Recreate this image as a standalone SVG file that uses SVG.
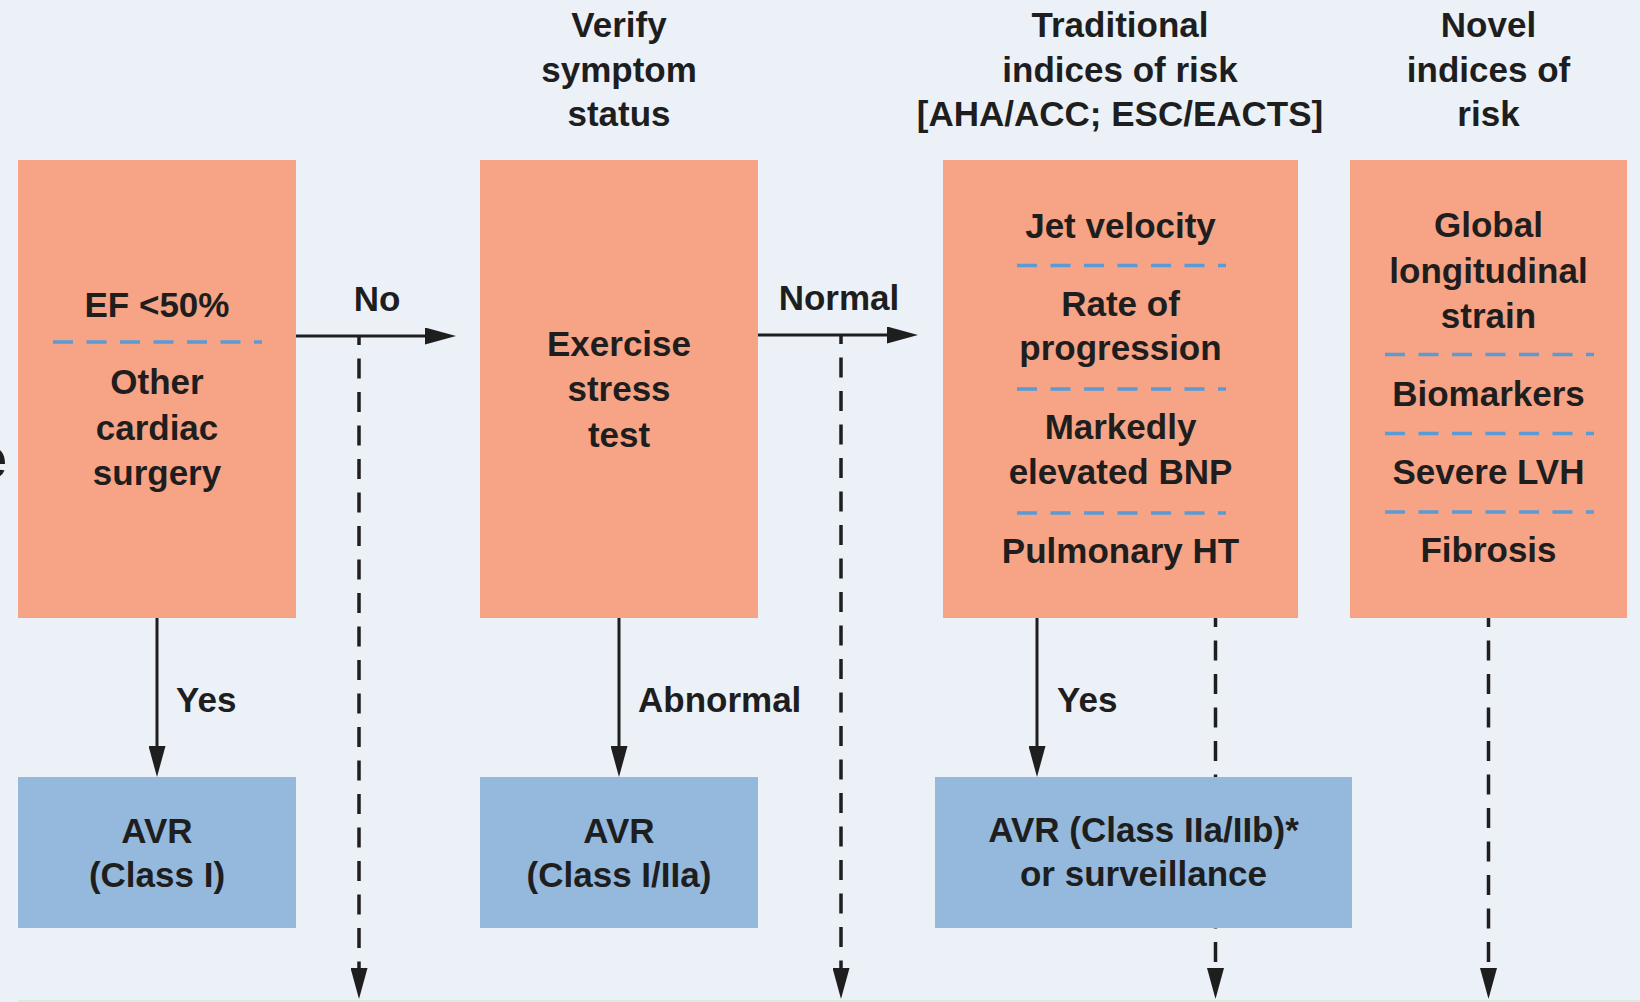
<svg xmlns="http://www.w3.org/2000/svg" width="1640" height="1002" viewBox="0 0 1640 1002">
<style>
.t{font-family:"Liberation Sans",Arial,sans-serif;font-weight:bold;font-size:35px;fill:#1e1e1e;text-anchor:middle}
.s{text-anchor:start}
.or{fill:#F7A385}
.bl{fill:#94B9DD}
.sep{stroke:#5A9BD5;stroke-width:3.5;stroke-dasharray:20 13.5;fill:none}
.ln{stroke:#1e1e1e;stroke-width:3;fill:none}
.dl{stroke:#1e1e1e;stroke-width:3.5;fill:none;stroke-dasharray:20 13.5;stroke-dashoffset:11}
</style>
<defs>
<marker id="ah" markerUnits="userSpaceOnUse" markerWidth="31" markerHeight="17" viewBox="0 0 31 17" refX="1" refY="8.5" orient="auto">
<path d="M0,0 L31,8.5 L0,17 Z" fill="#1e1e1e"/>
</marker>
</defs>
<rect width="1640" height="1002" fill="#ECF1F8"/>
<rect x="18" y="1000" width="1622" height="2" fill="#DCEBDC"/>
<text class="t" x="7" y="478" style="font-size:58px;text-anchor:end">e</text>

<g id="connectors">
<line class="ln" x1="296" y1="336" x2="426" y2="336" marker-end="url(#ah)"/>
<line class="dl" x1="359" y1="336" x2="359" y2="969" marker-end="url(#ah)"/>
<line class="ln" x1="758" y1="335" x2="888" y2="335" marker-end="url(#ah)"/>
<line class="dl" x1="841" y1="335" x2="841" y2="969" marker-end="url(#ah)"/>
<line class="ln" x1="157" y1="618" x2="157" y2="747" marker-end="url(#ah)"/>
<line class="ln" x1="619" y1="618" x2="619" y2="747" marker-end="url(#ah)"/>
<line class="ln" x1="1037" y1="618" x2="1037" y2="747" marker-end="url(#ah)"/>
<line class="dl" x1="1215.5" y1="618" x2="1215.5" y2="969" marker-end="url(#ah)"/>
<line class="dl" x1="1488.5" y1="618" x2="1488.5" y2="969" marker-end="url(#ah)"/>
<text class="t" x="377" y="311">No</text>
<text class="t" x="839" y="310">Normal</text>
<text class="t s" x="176" y="712">Yes</text>
<text class="t s" x="638" y="712">Abnormal</text>
<text class="t s" x="1057" y="712">Yes</text>
</g>

<g id="headers">
<text class="t" x="619" y="37">Verify</text>
<text class="t" x="619" y="82">symptom</text>
<text class="t" x="619" y="126">status</text>
<text class="t" x="1120" y="37">Traditional</text>
<text class="t" x="1120" y="82">indices of risk</text>
<text class="t" x="1120" y="126">[AHA/ACC; ESC/EACTS]</text>
<text class="t" x="1488.5" y="37">Novel</text>
<text class="t" x="1488.5" y="82">indices of</text>
<text class="t" x="1488.5" y="126">risk</text>
</g>

<g id="node-ef">
<rect class="or" x="18" y="160" width="278" height="458"/>
<text class="t" x="157" y="317">EF &lt;50%</text>
<line class="sep" x1="53" y1="342" x2="262" y2="342"/>
<text class="t" x="157" y="394">Other</text>
<text class="t" x="157" y="440">cardiac</text>
<text class="t" x="157" y="485">surgery</text>
</g>

<g id="node-exercise">
<rect class="or" x="480" y="160" width="278" height="458"/>
<text class="t" x="619" y="356">Exercise</text>
<text class="t" x="619" y="401">stress</text>
<text class="t" x="619" y="447">test</text>
</g>

<g id="node-traditional">
<rect class="or" x="943" y="160" width="355" height="458"/>
<text class="t" x="1120.5" y="238">Jet velocity</text>
<line class="sep" x1="1017" y1="265.5" x2="1226" y2="265.5"/>
<text class="t" x="1120.5" y="316">Rate of</text>
<text class="t" x="1120.5" y="360">progression</text>
<line class="sep" x1="1017" y1="389" x2="1226" y2="389"/>
<text class="t" x="1120.5" y="439">Markedly</text>
<text class="t" x="1120.5" y="484">elevated BNP</text>
<line class="sep" x1="1017" y1="513" x2="1226" y2="513"/>
<text class="t" x="1120.5" y="563">Pulmonary HT</text>
</g>

<g id="node-novel">
<rect class="or" x="1350" y="160" width="277" height="458"/>
<text class="t" x="1488.5" y="237">Global</text>
<text class="t" x="1488.5" y="283">longitudinal</text>
<text class="t" x="1488.5" y="328">strain</text>
<line class="sep" x1="1385" y1="354.5" x2="1594" y2="354.5"/>
<text class="t" x="1488.5" y="406">Biomarkers</text>
<line class="sep" x1="1385" y1="433.5" x2="1594" y2="433.5"/>
<text class="t" x="1488.5" y="484">Severe LVH</text>
<line class="sep" x1="1385" y1="512" x2="1594" y2="512"/>
<text class="t" x="1488.5" y="562">Fibrosis</text>
</g>

<g id="node-avr1">
<rect class="bl" x="18" y="777" width="278" height="151"/>
<text class="t" x="157" y="843">AVR</text>
<text class="t" x="157" y="887">(Class I)</text>
</g>

<g id="node-avr2">
<rect class="bl" x="480" y="777" width="278" height="151"/>
<text class="t" x="619" y="843">AVR</text>
<text class="t" x="619" y="887">(Class I/IIa)</text>
</g>

<g id="node-avr3">
<rect class="bl" x="935" y="777" width="417" height="151"/>
<text class="t" x="1143.5" y="842">AVR (Class IIa/IIb)*</text>
<text class="t" x="1143.5" y="886">or surveillance</text>
</g>
</svg>
